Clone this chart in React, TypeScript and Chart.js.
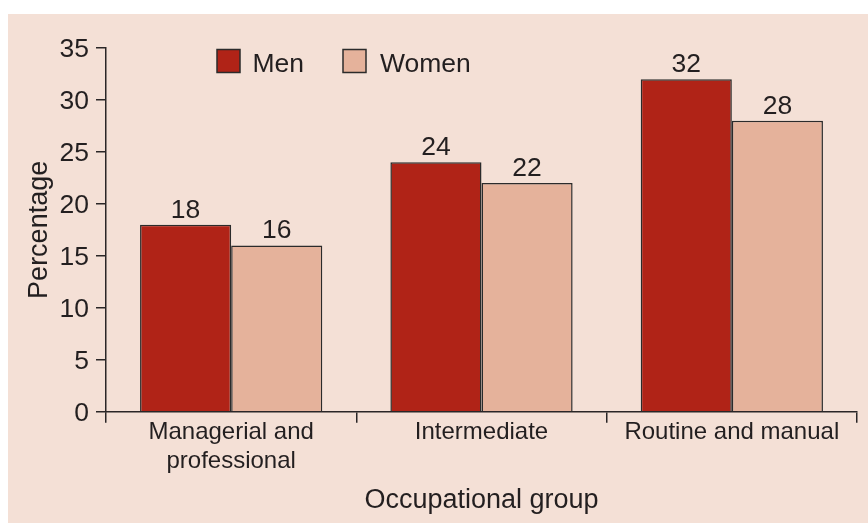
import { useEffect, useRef } from "react";
import { Chart, registerables } from "chart.js";

Chart.register(...registerables);

const categories: (string | string[])[] = [["Managerial and", "professional"], "Intermediate", "Routine and manual"];
const seriesNames = ["Men", "Women"];
const menValues = [18, 24, 32];
const womenValues = [16, 22, 28];
const yMin = 0;
const yMax = 35;
const yStep = 5;
const xTitle = "Occupational group";
const yTitle = "Percentage";

const FONT = "'Liberation Sans', Arial, Helvetica, sans-serif";
const TEXT = "#231f20";
const AXIS = "#2a2627";
const MEN = "#b02317";
const WOMEN = "#e5b29b";
const BG = "#f4e0d6";
const BORDER = "#2b2b2b";

const valueLabels = {
  id: "valueLabels",
  afterDatasetsDraw(chart: any) {
    const ctx = chart.ctx;
    ctx.save();
    ctx.fillStyle = TEXT;
    ctx.font = `26.5px ${FONT}`;
    ctx.textAlign = "center";
    ctx.textBaseline = "alphabetic";
    chart.data.datasets.forEach((ds: any, i: number) => {
      const meta = chart.getDatasetMeta(i);
      meta.data.forEach((bar: any, j: number) => {
        ctx.fillText(String(ds.data[j]), bar.x, bar.y - 7);
      });
    });
    ctx.restore();
  },
};

const customLegend = {
  id: "customLegend",
  afterDraw(chart: any) {
    const ctx = chart.ctx;
    const { left, top } = chart.chartArea;
    const items = [
      { label: seriesNames[0], color: MEN, boxX: left + 111, textX: left + 146.5 },
      { label: seriesNames[1], color: WOMEN, boxX: left + 237, textX: left + 274 },
    ];
    ctx.save();
    items.forEach((it) => {
      ctx.fillStyle = it.color;
      ctx.fillRect(it.boxX, top + 1.5, 23, 23);
      ctx.strokeStyle = BORDER;
      ctx.lineWidth = 1.5;
      ctx.strokeRect(it.boxX, top + 1.5, 23, 23);
      ctx.fillStyle = TEXT;
      ctx.font = `26.5px ${FONT}`;
      ctx.textAlign = "left";
      ctx.textBaseline = "alphabetic";
      ctx.fillText(it.label, it.textX, top + 24.3);
    });
    ctx.restore();
  },
};

export default function App() {
  const ref = useRef<HTMLCanvasElement | null>(null);

  useEffect(() => {
    if (!ref.current) return;
    const chart = new Chart(ref.current, {
      type: "bar",
      data: {
        labels: categories,
        datasets: [
          {
            label: seriesNames[0],
            data: menValues,
            backgroundColor: MEN,
            borderColor: BORDER,
            borderWidth: 1.5,
            categoryPercentage: 0.728,
            barPercentage: 1.0,
          },
          {
            label: seriesNames[1],
            data: womenValues,
            backgroundColor: WOMEN,
            borderColor: BORDER,
            borderWidth: 1.5,
            categoryPercentage: 0.728,
            barPercentage: 1.0,
          },
        ],
      },
      options: {
        responsive: false,
        animation: false,
        devicePixelRatio: 1,
        layout: { padding: { top: 34, right: 11, left: 0, bottom: 0 } },
        plugins: {
          legend: { display: false },
          tooltip: { enabled: false },
          title: { display: false },
        },
        scales: {
          x: {
            afterFit: (scale: any) => {
              scale.height = 111.3;
            },
            grid: {
              display: true,
              offset: true,
              drawOnChartArea: false,
              drawTicks: true,
              tickLength: 11,
              color: AXIS,
              lineWidth: 1.5,
            },
            border: { display: true, color: AXIS, width: 1.5 },
            ticks: {
              color: TEXT,
              font: { family: FONT, size: 24 },
              padding: -5,
              maxRotation: 0,
              autoSkip: false,
            },
            title: {
              display: true,
              text: xTitle,
              color: TEXT,
              font: { family: FONT, size: 27 },
              padding: { top: 0, bottom: 6 },
            },
          },
          y: {
            min: yMin,
            max: yMax,
            afterFit: (scale: any) => {
              scale.width = 98;
            },
            grid: {
              display: true,
              drawOnChartArea: false,
              drawTicks: true,
              tickLength: 10,
              color: AXIS,
              lineWidth: 1.5,
            },
            border: { display: true, color: AXIS, width: 1.5 },
            ticks: {
              stepSize: yStep,
              color: TEXT,
              font: { family: FONT, size: 26.5 },
              padding: 7,
              labelOffset: 2,
            },
            title: {
              display: true,
              text: yTitle,
              color: TEXT,
              font: { family: FONT, size: 27 },
              padding: { top: 15, bottom: 0 },
            },
          },
        },
      },
      plugins: [valueLabels, customLegend],
    });
    return () => chart.destroy();
  }, []);

  return (
    <div style={{ position: "fixed", left: 8, top: 14, width: 860, height: 509, background: BG }}>
      <canvas ref={ref} width={860} height={509} style={{ display: "block", width: 860, height: 509 }} />
    </div>
  );
}
